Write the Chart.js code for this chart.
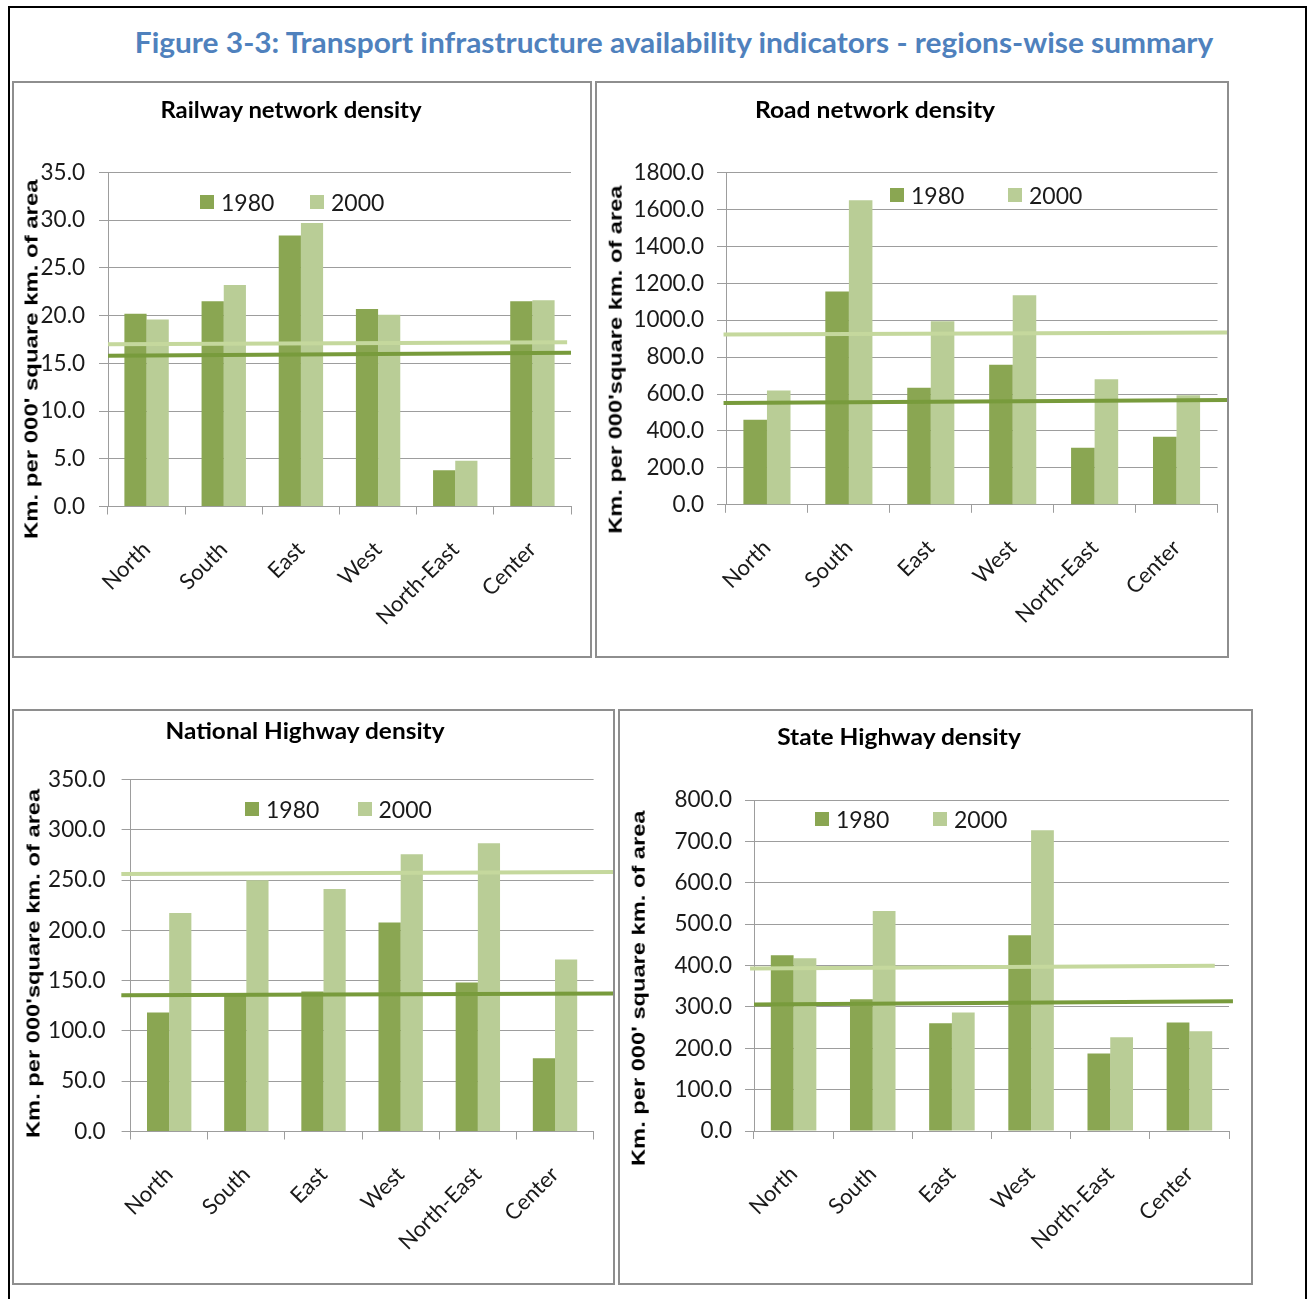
<!DOCTYPE html>
<html>
<head>
<meta charset="utf-8">
<script src="https://cdn.jsdelivr.net/npm/chart.js@4/dist/chart.umd.min.js"></script>
<style>
  body { margin: 0; background: #fff; }
  #page { position: relative; width: 1308px; height: 1299px; overflow: hidden; background: #fff; }
  .txt { position: absolute; white-space: nowrap; line-height: 1; }
  .panel { position: absolute; box-sizing: border-box; border: 2px solid #8e8e8e; }
  canvas { position: absolute; }
  .lbox { position: absolute; width: 14px; height: 14px; }
</style>
</head>
<body>
<div id="page">
  <div style="position:absolute;left:8px;top:6px;width:1299px;height:1400px;box-sizing:border-box;border:2px solid #000;"></div>
</div>
<script>
// data
const regions = ['North', 'South', 'East', 'West', 'North-East', 'Center'];
const seriesLabels = ['1980', '2000'];

const rail1980 = [20.2, 21.5, 28.4, 20.7, 3.8, 21.5];
const rail2000 = [19.6, 23.2, 29.7, 20.1, 4.8, 21.6];
const railAvg1980 = [15.8, 16.1];
const railAvg2000 = [17.0, 17.2];
const railTicks = [0, 5, 10, 15, 20, 25, 30, 35];

const road1980 = [461, 1156, 634, 759, 309, 369];
const road2000 = [620, 1650, 995, 1136, 680, 594];
const roadAvg1980 = [552, 568];
const roadAvg2000 = [923, 933];
const roadTicks = [0, 200, 400, 600, 800, 1000, 1200, 1400, 1600, 1800];

const nh1980 = [118.4, 136.6, 139.2, 207.9, 148.1, 72.8];
const nh2000 = [217.2, 249.8, 241.3, 275.8, 286.6, 171.1];
const nhAvg1980 = [135.5, 137.3];
const nhAvg2000 = [256.1, 258.0];
const nhTicks = [0, 50, 100, 150, 200, 250, 300, 350];

const sh1980 = [424.7, 318.3, 260.6, 473.4, 187.6, 262.4];
const sh2000 = [417.5, 532.0, 286.7, 726.8, 226.3, 240.8];
const shAvg1980 = [305.7, 313.8];
const shAvg2000 = [393.0, 399.5];
const shTicks = [0, 100, 200, 300, 400, 500, 600, 700, 800];

// styles
const barDark = '#8aa652';
const barLight = '#b9cd96';
const lineDark = '#789b3c';
const lineLight = '#c5d89d';
const gridColor = '#9d9d9d';
const textColor = '#1a1a1a';

const page = document.getElementById('page');

// span = where the average line starts/ends, in category units (-0.5 = left edge of plot)
const panels = [
  { title: 'Railway network density', yTitle: "Km. per 000' square km. of area",
    box: {x: 12, y: 81, w: 580, h: 577}, area: {l: 108, t: 172.5, r: 571, b: 506.5},
    s1980: rail1980, s2000: rail2000, a1980: railAvg1980, a2000: railAvg2000, ticks: railTicks,
    span1980: [-0.5, 5.5], span2000: [-0.5, 5.45], tickPad: 14,
    head: {cx: 290.5, cy: 108.5, w: 261}, side: {cx: 31.5, start: 539, len: 359},
    legend: {x: [200, 310], cy: 202} },
  { title: 'Road network density', yTitle: "Km. per 000'square km. of area",
    box: {x: 595, y: 81, w: 634, h: 577}, area: {l: 726, t: 172.6, r: 1217.5, b: 504.8},
    s1980: road1980, s2000: road2000, a1980: roadAvg1980, a2000: roadAvg2000, ticks: roadTicks,
    span1980: [-0.53, 5.66], span2000: [-0.53, 5.66], tickPad: 13,
    head: {cx: 875, cy: 108.5, w: 240}, side: {cx: 615.7, start: 533.7, len: 348},
    legend: {x: [890, 1008], cy: 194.5} },
  { title: 'National Highway density', yTitle: "Km. per 000'square km. of area",
    box: {x: 12, y: 709, w: 603, h: 576}, area: {l: 130.6, t: 779.6, r: 593.6, b: 1131.5},
    s1980: nh1980, s2000: nh2000, a1980: nhAvg1980, a2000: nhAvg2000, ticks: nhTicks,
    span1980: [-0.62, 5.76], span2000: [-0.62, 5.76], tickPad: 16,
    head: {cx: 305, cy: 730, w: 279}, side: {cx: 33.5, start: 1138, len: 349},
    legend: {x: [245, 357.5], cy: 808.5} },
  { title: 'State Highway density', yTitle: "Km. per 000' square km. of area",
    box: {x: 618, y: 709, w: 635, h: 576}, area: {l: 754, t: 800, r: 1229, b: 1131},
    s1980: sh1980, s2000: sh2000, a1980: shAvg1980, a2000: shAvg2000, ticks: shTicks,
    span1980: [-0.5, 5.55], span2000: [-0.55, 5.32], tickPad: 13,
    head: {cx: 899, cy: 735.5, w: 244}, side: {cx: 638.7, start: 1166, len: 355},
    legend: {x: [815, 933], cy: 819} }
];

// average lines, placed with the chart's own x and y scales
const avgLines = {
  id: 'avgLines',
  afterDatasetsDraw(chart, args, opts) {
    const xs = chart.scales.x, ys = chart.scales.y, ctx = chart.ctx;
    ctx.save();
    ctx.lineWidth = 4;
    ctx.lineCap = 'butt';
    opts.lines.forEach(l => {
      ctx.strokeStyle = l.color;
      ctx.beginPath();
      ctx.moveTo(xs.getPixelForValue(l.span[0]), ys.getPixelForValue(l.values[0]));
      ctx.lineTo(xs.getPixelForValue(l.span[1]), ys.getPixelForValue(l.values[1]));
      ctx.stroke();
    });
    ctx.restore();
  }
};

function addText(text, css) {
  const el = document.createElement('div');
  el.className = 'txt';
  el.textContent = text;
  el.style.cssText += css;
  page.appendChild(el);
  return el;
}

// centred text, squeezed/stretched to the measured width
function centredText(text, cx, cy, w, font, color) {
  const el = addText(text, `left:${cx}px;top:${cy}px;font:${font};color:${color};transform-origin:50% 50%;`);
  const k = w / el.offsetWidth;
  el.style.transform = `translate(-50%,-50%) scaleX(${k})`;
  return el;
}

function sideTitle(text, cx, start, len) {
  const el = addText(text, `left:0;top:0;font:bold 19px "Liberation Sans", Arial, sans-serif;color:#000;transform-origin:0 0;`);
  const k = len / el.offsetWidth;
  el.style.transform = `translate(${cx}px,${start}px) rotate(-90deg) translate(0,-50%) scaleX(${k})`;
}

function legend(p) {
  const colors = [barDark, barLight];
  seriesLabels.forEach((lab, i) => {
    const bx = p.legend.x[i];
    const b = document.createElement('div');
    b.className = 'lbox';
    b.style.left = bx + 'px';
    b.style.top = (p.legend.cy - 7) + 'px';
    b.style.background = colors[i];
    page.appendChild(b);
    addText(lab, `left:${bx + 21}px;top:${p.legend.cy}px;font:23px Lato, sans-serif;color:${textColor};transform:translateY(-50%);`);
  });
}

function buildChart(p) {
  const frame = document.createElement('div');
  frame.className = 'panel';
  frame.style.left = p.box.x + 'px';
  frame.style.top = p.box.y + 'px';
  frame.style.width = p.box.w + 'px';
  frame.style.height = p.box.h + 'px';
  page.appendChild(frame);

  const cx = p.box.x + 2, cy = p.box.y + 2, cw = p.box.w - 4, ch = p.box.h - 4;
  const cv = document.createElement('canvas');
  cv.width = cw; cv.height = ch;
  cv.style.left = cx + 'px'; cv.style.top = cy + 'px';
  cv.style.width = cw + 'px'; cv.style.height = ch + 'px';
  page.appendChild(cv);

  new Chart(cv, {
    type: 'bar',
    data: {
      labels: regions,
      datasets: [
        { label: seriesLabels[0], data: p.s1980, backgroundColor: barDark,
          categoryPercentage: 0.575, barPercentage: 1 },
        { label: seriesLabels[1], data: p.s2000, backgroundColor: barLight,
          categoryPercentage: 0.575, barPercentage: 1 }
      ]
    },
    plugins: [avgLines],
    options: {
      responsive: false,
      animation: false,
      events: [],
      layout: { padding: { left: 0, top: p.area.t - cy, right: cx + cw - p.area.r, bottom: 0 } },
      plugins: {
        legend: { display: false },
        tooltip: { enabled: false },
        avgLines: { lines: [
          { span: p.span1980, values: p.a1980, color: lineDark },
          { span: p.span2000, values: p.a2000, color: lineLight }
        ] }
      },
      scales: {
        x: {
          offset: true,
          afterFit: s => { s.height = cy + ch - p.area.b; },
          grid: { offset: true, drawOnChartArea: false, drawTicks: true, tickLength: 8, color: gridColor },
          border: { color: gridColor },
          ticks: { autoSkip: false, minRotation: 45, maxRotation: 45, padding: 22,
                   font: { family: 'Lato', size: 22 }, color: textColor }
        },
        y: {
          min: p.ticks[0], max: p.ticks[p.ticks.length - 1],
          afterBuildTicks: s => { s.ticks = p.ticks.map(v => ({ value: v })); },
          afterFit: s => { s.width = p.area.l - cx; },
          grid: { color: gridColor, tickLength: 9 },
          border: { color: gridColor },
          ticks: { padding: p.tickPad, callback: v => Number(v).toFixed(1),
                   font: { family: 'Lato', size: 22.5 }, color: textColor }
        }
      }
    }
  });

  centredText(p.title, p.head.cx, p.head.cy, p.head.w, 'bold 23px Lato, sans-serif', '#000');
  sideTitle(p.yTitle, p.side.cx, p.side.start, p.side.len);
  legend(p);
}

centredText('Figure 3-3: Transport infrastructure availability indicators - regions-wise summary',
  673.5, 41.7, 1079, 'bold 28px Lato, sans-serif', '#4f81bd');

panels.forEach(buildChart);
</script>
</body>
</html>
